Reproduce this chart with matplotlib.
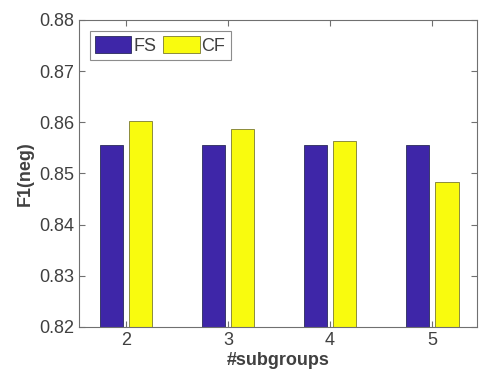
import numpy as np
import matplotlib
matplotlib.use('Agg')
import matplotlib.pyplot as plt

subgroups = [2, 3, 4, 5]
fs_vals = [0.8555, 0.8555, 0.8555, 0.8555]
cf_vals = [0.8602, 0.8587, 0.8563, 0.8483]
yticks = [0.82, 0.83, 0.84, 0.85, 0.86, 0.87, 0.88]

plt.rcParams['font.family'] = ['Liberation Sans', 'DejaVu Sans']
plt.rcParams['font.size'] = 13

fig = plt.figure(figsize=(4.79, 3.82), dpi=100)
ax = fig.add_axes([0.165, 0.144, 0.831, 0.804])

x = np.array(subgroups, dtype=float)
w = 0.23
off = 0.143
ax.bar(x - off, fs_vals, w, color='#3e26a8', edgecolor='#2a2a5a', linewidth=0.6, label='FS')
ax.bar(x + off, cf_vals, w, color='#f9fb0e', edgecolor='#7a7a30', linewidth=0.6, label='CF')

ax.set_xlim(1.54, 5.44)
ax.set_ylim(0.82, 0.88)
ax.set_xticks(subgroups)
ax.set_yticks(yticks)
ax.set_yticklabels(['%.2f' % v for v in yticks])

txt = '#404040'
for s in ax.spines.values():
    s.set_color('#707070')
    s.set_linewidth(0.8)
ax.tick_params(direction='in', top=True, right=True, length=4, width=0.8,
               colors='#707070', labelcolor=txt, labelsize=13)
ax.set_xlabel('#subgroups', fontweight='bold', color=txt, fontsize=13, labelpad=2)
ax.set_ylabel('F1(neg)', fontweight='bold', color=txt, fontsize=13, labelpad=4)

leg = ax.legend(loc='upper left', ncol=2, frameon=True, fancybox=False,
                handlelength=2.0, handleheight=1.05, handletextpad=0.1,
                columnspacing=0.4, borderpad=0.3, borderaxespad=0.6,
                fontsize=13, labelcolor=txt)
leg.get_frame().set_edgecolor('#707070')
leg.get_frame().set_linewidth(0.8)

fig.savefig('out.png', dpi=100)
